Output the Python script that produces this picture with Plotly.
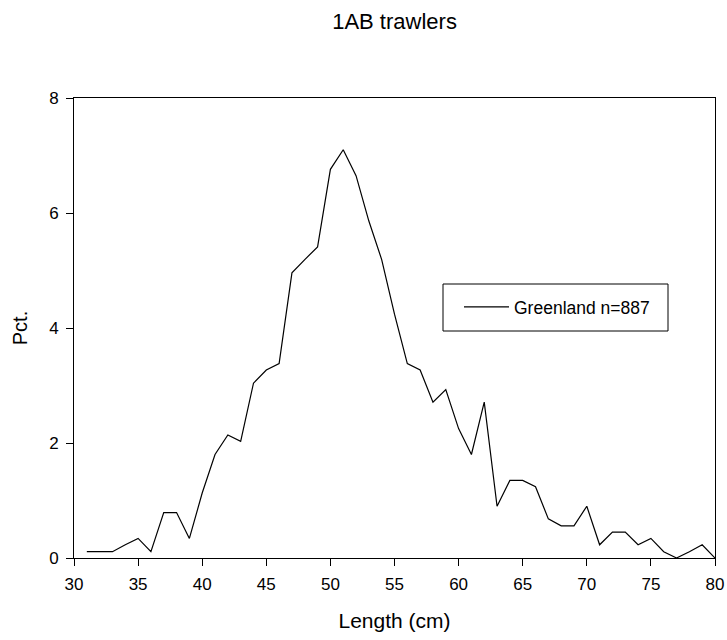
import plotly.graph_objects as go

length_cm = list(range(31, 81))
pct = [0.11, 0.11, 0.11, 0.23, 0.34, 0.11, 0.79, 0.79, 0.34, 1.13,
       1.80, 2.14, 2.03, 3.04, 3.27, 3.38, 4.96, 5.19, 5.41, 6.76,
       7.10, 6.65, 5.86, 5.19, 4.24, 3.38, 3.27, 2.71, 2.93, 2.25,
       1.80, 2.71, 0.90, 1.35, 1.35, 1.24, 0.68, 0.56, 0.56, 0.90,
       0.23, 0.45, 0.45, 0.23, 0.34, 0.11, 0.00, 0.11, 0.23, 0.00]
series_name = "Greenland n=887"
x_ticks = [30, 35, 40, 45, 50, 55, 60, 65, 70, 75, 80]
y_ticks = [0, 2, 4, 6, 8]

FONT = "Liberation Sans, Arial, sans-serif"

fig = go.Figure()
fig.add_trace(go.Scatter(x=length_cm, y=pct, mode="lines", name=series_name,
                         line=dict(color="black", width=1.2)))

fig.update_layout(
    width=727, height=640,
    margin=dict(l=74, r=12, t=98, b=82, autoexpand=False),
    paper_bgcolor="white", plot_bgcolor="white",
    font=dict(family=FONT, color="black", size=17),
    title=dict(text="1AB trawlers", x=0.5427, xanchor="center",
               y=1 - 21 / 640, yanchor="middle", yref="container",
               font=dict(size=22, family=FONT, color="black")),
    showlegend=True,
    legend=dict(x=(459 - 74) / 641, y=(558 - 307) / 460, xanchor="left", yanchor="middle",
                bgcolor="rgba(0,0,0,0)", borderwidth=0, itemwidth=45,
                font=dict(size=17.5, family=FONT, color="black")),
    shapes=[dict(type="rect", xref="paper", yref="paper",
                 x0=(443 - 74) / 641, x1=(668 - 74) / 641,
                 y0=(558 - 331) / 460, y1=(558 - 284) / 460,
                 line=dict(color="black", width=1), fillcolor="rgba(0,0,0,0)")],
)

fig.update_xaxes(range=[30, 80], tickvals=x_ticks, ticks="outside", ticklen=7,
                 tickcolor="black", showline=True, linecolor="black", linewidth=1,
                 mirror=True, showgrid=False, zeroline=False, automargin=False,
                 ticklabelstandoff=4,
                 title=dict(text="Length (cm)", font=dict(size=21, family=FONT), standoff=19),
                 tickfont=dict(size=17, family=FONT))
fig.update_yaxes(range=[0, 8], tickvals=y_ticks, ticks="outside", ticklen=7,
                 tickcolor="black", showline=True, linecolor="black", linewidth=1,
                 mirror=True, showgrid=False, zeroline=False, automargin=False,
                 ticklabelstandoff=4,
                 title=dict(text="Pct.", font=dict(size=20, family=FONT), standoff=16),
                 tickfont=dict(size=17, family=FONT))

fig.write_html("out.html")
